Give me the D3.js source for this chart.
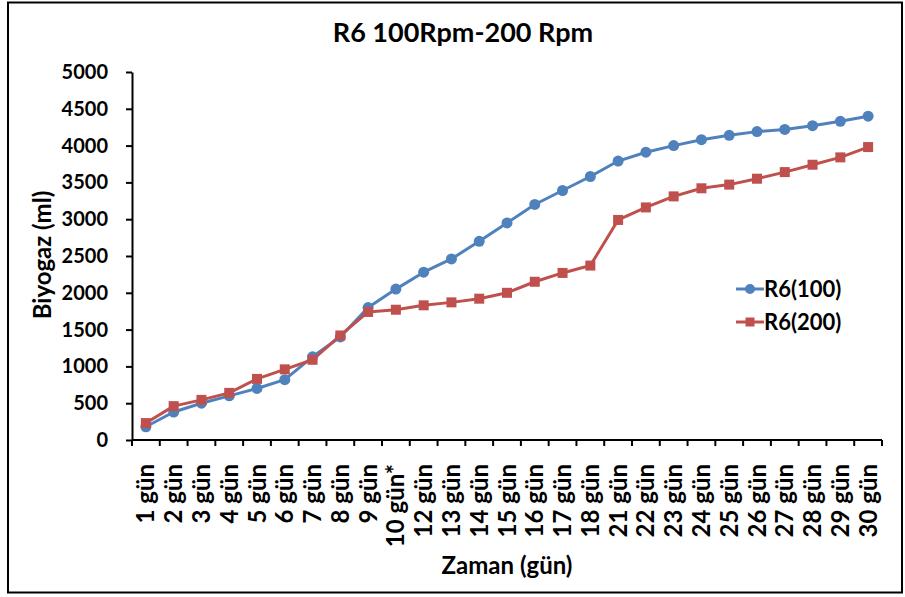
<!DOCTYPE html>
<html>
<head>
<meta charset="utf-8">
<script src="https://cdn.jsdelivr.net/npm/d3@7"></script>
<style>
  body { margin: 0; background: #fff; }
  svg text { font-family: Lato, "Open Sans", sans-serif; font-weight: bold; fill: #000; }
</style>
</head>
<body>
<svg id="chart" width="905" height="597"></svg>
<script>
const categories = ["1 gün","2 gün","3 gün","4 gün","5 gün","6 gün","7 gün","8 gün","9 gün","10 gün*",
  "12 gün","13 gün","14 gün","15 gün","16 gün","17 gün","18 gün","21 gün","22 gün","23 gün",
  "24 gün","25 gün","26 gün","27 gün","28 gün","29 gün","30 gün"];
const r6_100 = [180,380,500,600,700,820,1130,1400,1800,2050,2280,2460,2700,2950,3200,3390,3580,3790,3910,4000,4080,4140,4190,4220,4270,4330,4400];
const r6_200 = [230,460,545,640,830,960,1090,1420,1740,1770,1830,1870,1920,2000,2150,2270,2370,2990,3160,3310,3420,3470,3550,3640,3740,3840,3980];
const yTicks = [0,500,1000,1500,2000,2500,3000,3500,4000,4500,5000];
const seriesNames = ["R6(100)","R6(200)"];
const colors = ["#4F81BD","#C0504D"];

const svg = d3.select("#chart");
const mLeft = 132, mRight = 882, mTop = 72, mBottom = 440;

// outer frame
svg.append("rect").attr("x",8).attr("y",2.5).attr("width",894).attr("height",590)
  .attr("fill","none").attr("stroke","#000").attr("stroke-width",2);

const x = d3.scaleBand().domain(categories).range([mLeft,mRight]).paddingInner(0).paddingOuter(0);
const y = d3.scaleLinear().domain([0,5000]).range([mBottom,mTop]);

// y axis
const yAxis = svg.append("g").attr("transform",`translate(${mLeft},0)`)
  .call(d3.axisLeft(y).tickValues(yTicks).tickFormat(d3.format("d")).tickSize(6).tickSizeOuter(0).tickPadding(18));
yAxis.select(".domain").attr("stroke","#000").attr("stroke-width",2);
yAxis.selectAll(".tick line").attr("stroke","#000").attr("stroke-width",2);
yAxis.selectAll(".tick text").style("font-size","20px").style("font-family","Lato, sans-serif").style("font-weight","bold");

// x axis: ticks at category boundaries
const xg = svg.append("g").attr("transform",`translate(0,${mBottom})`);
xg.append("line").attr("x1",mLeft).attr("x2",mRight).attr("y1",0).attr("y2",0)
  .attr("stroke","#000").attr("stroke-width",2);
const boundaries = categories.map(c => x(c) + x.bandwidth()).concat([mLeft]);
xg.selectAll("line.tk").data(boundaries).enter().append("line").attr("class","tk")
  .attr("x1",d=>d).attr("x2",d=>d).attr("y1",0).attr("y2",6)
  .attr("stroke","#000").attr("stroke-width",2);
xg.selectAll("text").data(categories).enter().append("text")
  .attr("transform",d=>`translate(${x(d)+x.bandwidth()/2+8.5},24) rotate(-90)`)
  .attr("text-anchor","end")
  .style("font-size","24px")
  .text(d=>d);

// lines
const line = d3.line().x((d,i)=>x(categories[i])+x.bandwidth()/2).y(d=>y(d));
[r6_100, r6_200].forEach((s,k)=>{
  svg.append("path").datum(s).attr("d",line).attr("fill","none")
    .attr("stroke",colors[k]).attr("stroke-width",3).attr("stroke-linejoin","round");
});
svg.selectAll("circle.p").data(r6_100).enter().append("circle").attr("class","p")
  .attr("cx",(d,i)=>x(categories[i])+x.bandwidth()/2).attr("cy",d=>y(d)).attr("r",5.5)
  .attr("fill",colors[0]);
svg.selectAll("rect.p").data(r6_200).enter().append("rect").attr("class","p")
  .attr("x",(d,i)=>x(categories[i])+x.bandwidth()/2-5).attr("y",d=>y(d)-5)
  .attr("width",10).attr("height",10).attr("fill",colors[1]);

// title
svg.append("text").attr("x",463).attr("y",42).attr("text-anchor","middle")
  .style("font-size","27px").text("R6 100Rpm-200 Rpm");
// axis titles
svg.append("text").attr("transform","translate(51,255) rotate(-90)").attr("text-anchor","middle")
  .style("font-size","24px").text("Biyogaz (ml)");
svg.append("text").attr("x",507).attr("y",574).attr("text-anchor","middle")
  .style("font-size","24px").text("Zaman (gün)");

// legend
const lg = svg.append("g");
seriesNames.forEach((n,k)=>{
  const yy = 289 + k*33;
  lg.append("line").attr("x1",736).attr("x2",764).attr("y1",yy).attr("y2",yy)
    .attr("stroke",colors[k]).attr("stroke-width",3);
  if(k===0) lg.append("circle").attr("cx",750).attr("cy",yy).attr("r",5).attr("fill",colors[k]);
  else lg.append("rect").attr("x",745.5).attr("y",yy-4.5).attr("width",9).attr("height",9).attr("fill",colors[k]);
  lg.append("text").attr("x",764).attr("y",yy+8).style("font-size","22px").text(n);
});
</script>
</body>
</html>
